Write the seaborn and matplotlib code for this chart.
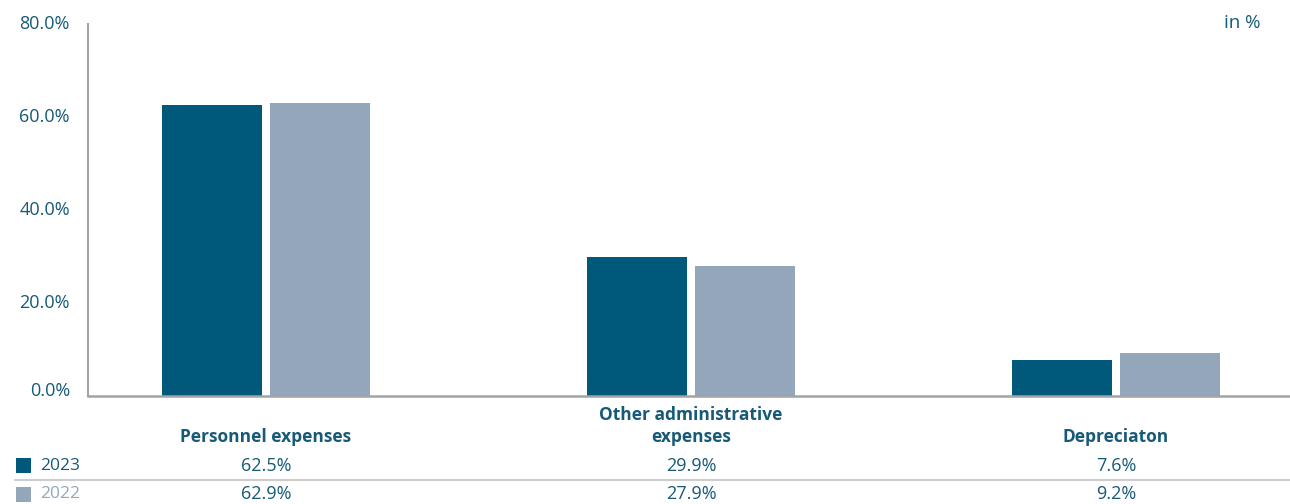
import matplotlib
matplotlib.use("Agg")
import matplotlib.pyplot as plt
from matplotlib.transforms import blended_transform_factory, ScaledTranslation
from matplotlib.lines import Line2D
import seaborn as sns
import pandas as pd

# Share of administrative expenses by cost type
categories = ["Personnel expenses", "Other administrative\nexpenses", "Depreciaton"]
years = ["2023", "2022"]
values_2023 = [62.5, 29.9, 7.6]
values_2022 = [62.9, 27.9, 9.2]
y_ticks = [0, 20, 40, 60, 80]

TEAL = "#00587A"
GREY_BLUE = "#94A6BA"
TEXT = "#165A78"
AXIS_GREY = "#A3A3A5"

sns.set_theme(style="white")
plt.rcParams["font.family"] = ["Open Sans", "DejaVu Sans"]

df = pd.DataFrame({
    "category": categories * 2,
    "year": [years[0]] * 3 + [years[1]] * 3,
    "share": values_2023 + values_2022,
})

fig = plt.figure(figsize=(12.9, 5.04), dpi=100)
ax = fig.add_axes([88 / 1290, (504 - 395.5) / 504, 1 - 88 / 1290, 371.5 / 504])

sns.barplot(data=df, x="category", y="share", hue="year", order=categories,
            hue_order=years, palette=[TEAL, GREY_BLUE], width=0.505, gap=0.0654,
            saturation=1, legend=False, ax=ax, linewidth=0)

ax.set_xlim(-0.4188, 2.4094)
ax.set_ylim(0, 80)
ax.set_yticks(y_ticks)
ax.set_yticklabels([f"{t:.1f}%" for t in y_ticks], color=TEXT, fontsize=13)
ax.tick_params(axis="y", length=0, pad=13)
for t, lab in zip(y_ticks, ax.get_yticklabels()):
    dy = 6 if t == 0 else 1.5
    lab.set_transform(lab.get_transform() + ScaledTranslation(0, dy / 100, fig.dpi_scale_trans))
ax.set_xticks([])
ax.set_xlabel("")
ax.set_ylabel("")
for side in ("top", "right"):
    ax.spines[side].set_visible(False)
ax.spines["left"].set_color(AXIS_GREY)
ax.spines["left"].set_linewidth(1.5)
ax.spines["bottom"].set_color(AXIS_GREY)
ax.spines["bottom"].set_linewidth(1.8)

ax.text(1261 / 1290, (504 - 23) / 504, "in %", transform=fig.transFigure,
        ha="right", va="center", color=TEXT, fontsize=13.5)

# Data table below the chart
tr = blended_transform_factory(ax.transData, fig.transFigure)
for i, cat in enumerate(categories):
    ax.text(i, (504 - 442) / 504, cat, transform=tr, ha="center", va="baseline",
            color=TEXT, fontsize=12.5, fontweight="bold", linespacing=1.25, clip_on=False)
    ax.text(i, (504 - 466) / 504, f"{values_2023[i]:.1f}%", transform=tr,
            ha="center", va="center", color=TEXT, fontsize=13, clip_on=False)
    ax.text(i, (504 - 494) / 504, f"{values_2022[i]:.1f}%", transform=tr,
            ha="center", va="center", color=TEXT, fontsize=13, clip_on=False)

fig.add_artist(Line2D([15 / 1290, 1.0], [(504 - 480) / 504] * 2,
                      transform=fig.transFigure, color="#CDCDCD", linewidth=1.5))

for y_px, label, col, txt_col in [(465.5, years[0], TEAL, TEXT),
                                  (494.5, years[1], GREY_BLUE, GREY_BLUE)]:
    fig.patches.append(plt.Rectangle((16 / 1290, (504 - y_px - 7.5) / 504), 15 / 1290, 15 / 504,
                                     transform=fig.transFigure, facecolor=col,
                                     edgecolor="none", figure=fig))
    fig.text(40 / 1290, (504 - y_px) / 504, label, ha="left", va="center",
             color=txt_col, fontsize=12.5)

fig.savefig("out.png", dpi=100)
